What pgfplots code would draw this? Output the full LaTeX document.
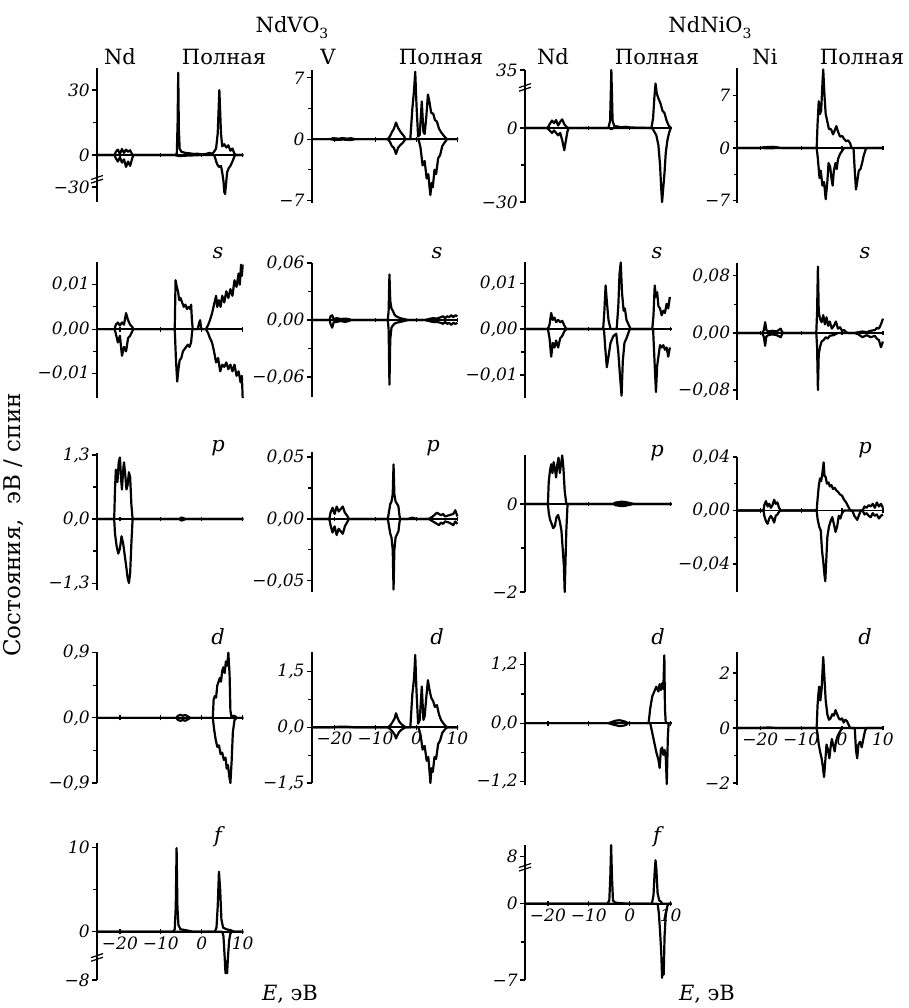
\documentclass[border=0pt]{standalone}
\usepackage{fontspec}
\setmainfont{DejaVu Serif}
\usepackage{pgfplots}
\pgfplotsset{compat=1.18}
\newcommand\tl[1]{\textit{#1}}
\newcommand\brk[1]{\draw[line width=0.6pt] (axis cs:-25.6,#1) ++(-3pt,-1.6pt) -- ++(6pt,2pt); \draw[line width=0.6pt] (axis cs:-25.6,#1) ++(-3pt,0.2pt) -- ++(6pt,2pt);}
\pgfplotsset{
  dos/.style={
    scale only axis, width=73.25pt,
    xmin=-25.6, xmax=10.2,
    axis x line*=middle, axis y line*=left,
    axis line style={line width=0.95pt},
    xtick={-20,-10,0,10}, xticklabels={},
    xtick align=center, ytick align=outside,
    major tick length=2.4pt, minor tick length=1.8pt,
    every tick/.style={line width=0.6pt, black},
    hide obscured x ticks=false, hide obscured y ticks=false,
    yticklabel style={font=\fontsize{8.5}{9}\selectfont, inner sep=1pt},
    xticklabel style={font=\fontsize{8.5}{9}\selectfont, inner sep=1pt},
    clip=false, anchor=south west,
    cycle list={{black, mark=none}},
    every axis plot post/.append style={line width=1.1pt, line join=round, black, mark=none},
    scaled y ticks=false,
  },
  xlab/.style={xticklabels={\tl{−20},\tl{−10},\tl{0},\tl{10}}},
}
\begin{document}
\begin{tikzpicture}
\useasboundingbox (0,0) rectangle (454.5pt,-504pt);
\tikzset{ttl/.style={font=\fontsize{10.5}{12}\selectfont, inner sep=0pt},
         orb/.style={font=\fontsize{10.5}{12}\selectfont\itshape, inner sep=0pt}}
% ---------- titles ----------
\node[ttl] at (146pt,-14pt) {NdVO\raisebox{-0.55ex}{\fontsize{7}{8}\selectfont 3}};
\node[ttl] at (355pt,-14pt) {NdNiO\raisebox{-0.55ex}{\fontsize{7}{8}\selectfont 3}};
\node[ttl] at (60pt,-28.5pt) {Nd};
\node[ttl] at (112pt,-28.5pt) {Полная};
\node[ttl] at (164pt,-28.5pt) {V};
\node[ttl] at (220.5pt,-28.5pt) {Полная};
\node[ttl] at (276.5pt,-28.5pt) {Nd};
\node[ttl] at (328.5pt,-28.5pt) {Полная};
\node[ttl] at (382.5pt,-28.5pt) {Ni};
\node[ttl] at (431pt,-28.5pt) {Полная};
\foreach \xx in {109,218.5,328.5,432.5} {\node[orb] at (\xx pt,-126.5pt) {s};}
\node[orb] at (109pt,-224pt) {p};
\node[orb] at (216.5pt,-224pt) {p};
\node[orb] at (328.5pt,-226.5pt) {p};
\node[orb] at (432.5pt,-225pt) {p};
\foreach \xx in {109,218.5,329,432.5} {\node[orb] at (\xx pt,-318.5pt) {d};}
\node[orb] at (109pt,-418.5pt) {f};
\node[orb] at (328.5pt,-418.5pt) {f};
\node[ttl] at (145pt,-497pt) {\textit{E}, эВ};
\node[ttl] at (353.5pt,-497pt) {\textit{E}, эВ};
\node[ttl, rotate=90, font=\fontsize{11.5}{13}\selectfont] at (7pt,-262.5pt) {Состояния,\ \ эВ / спин};

% ================= ROW 1 =================
\begin{axis}[dos, at={(48.5pt,-101pt)}, height=67pt, ymin=-21.7, ymax=40.2,
  ytick={-14.8,0,30}, yticklabels={\tl{−30},\tl{0},\tl{30}}, minor ytick={15}]
\addplot coordinates {(-25.6,0)(-21.3,0)(-21,1.5)(-20.5,2.5)(-20,0.5)(-19.5,2.8)(-19,1)(-18.5,2.5)(-18,1.5)(-17.5,2.2)(-17,0.3)(-16.7,0)(-6.5,0)(-6.1,0.5)(-5.9,15)(-5.75,38)(-5.6,12)(-5.4,3)(-5,1.5)(-4,1)(-3,0.8)(-2,0.5)(-1,0.6)(0,0.3)(1,0.5)(2,1)(2.5,0.5)(3,1.5)(3.5,3)(3.9,10)(4.3,30)(4.7,10)(5.0,4)(5.5,5)(6,3.5)(6.5,4.5)(7,2)(7.5,3)(8,0.5)(8.5,0)(10.2,0)};
\addplot coordinates {(-25.6,0)(-21.3,0)(-21,-1.5)(-20.5,-3)(-20,-1)(-19.5,-3.5)(-19,-2)(-18.5,-5.5)(-18,-3)(-17.5,-5)(-17,-1.5)(-16.7,0)(-6.5,0)(-6,-0.3)(-5.5,-0.5)(-4,-0.3)(0,0)(3,0)(3.3,-1.5)(3.7,-4)(4.2,-5.5)(4.7,-5)(5.0,-8)(5.3,-12)(5.5,-17)(5.7,-18)(5.9,-14)(6.2,-8)(6.6,-6)(7,-5)(7.5,-3)(8,-0.5)(8.3,0)(10.2,0)};
\brk{-11.5}
\end{axis}

\begin{axis}[dos, at={(155.85pt,-101.5pt)}, height=66.5pt, ymin=-7.3, ymax=7.9,
  ytick={-7,0,7}, yticklabels={\tl{−7},\tl{0},\tl{7}}, minor ytick={-3.5,3.5}]
\addplot coordinates {(-25.6,0)(-21,0)(-20.5,0.1)(-19,0.05)(-18,0.12)(-17,0.05)(-16,0.1)(-15,0)(-7,0)(-6.5,0.3)(-6,0.8)(-5.5,1.2)(-5,1.9)(-4.5,1.3)(-4,0.9)(-3.5,0.6)(-3,0.3)(-2.7,0)(-1.5,0)(-1.0,3.5)(-0.6,5.5)(-0.3,7.7)(0,4)(0.4,0.3)(0.8,0.5)(1.3,4.3)(1.7,0.8)(2.0,0.6)(2.4,2.5)(2.8,5.1)(3.2,4.2)(3.6,3)(4.1,2.9)(4.5,2.2)(5,2.0)(5.5,1.2)(6,0.8)(6.5,0.5)(7,0.2)(7.5,0)(10.2,0)};
\addplot coordinates {(-25.6,0)(-21,0)(-20,-0.1)(-18,-0.05)(-16,-0.1)(-15,0)(-7,0)(-6.5,-0.3)(-6,-0.8)(-5.5,-1.0)(-5,-1.7)(-4.5,-1.0)(-4,-0.7)(-3.5,-0.5)(-3,-0.2)(-2.7,0)(0.5,0)(1.0,-1)(1.5,-3)(2,-2.5)(2.5,-4.5)(2.9,-4)(3.2,-5.5)(3.4,-6.4)(3.7,-5)(4,-5.5)(4.4,-3.5)(4.8,-4)(5.3,-2.2)(5.8,-1.8)(6.3,-0.8)(7,-0.3)(7.5,0)(10.2,0)};
\end{axis}

\begin{axis}[dos, at={(262.5pt,-101.5pt)}, height=66.5pt, ymin=-30.4, ymax=23.5,
  ytick={-30,0,23.5}, yticklabels={\tl{−30},\tl{0},\tl{35}}, minor ytick={-15}]
\addplot coordinates {(-25.6,0)(-20,0)(-19.6,1.5)(-19,3)(-18.5,2)(-18,3.2)(-17.5,1)(-17,2.5)(-16.5,3.5)(-16,1.5)(-15.5,0.5)(-15,0)(-5.2,0)(-4.8,3)(-4.5,23.5)(-4.2,3)(-3.8,0.8)(-3,0.6)(-2,0.3)(-1,0.5)(0,0.2)(5.3,0)(5.7,4)(6,12)(6.3,18)(6.6,14)(7,12)(7.5,10)(8,7)(8.5,6)(9,3)(9.5,1)(10,0)(10.2,0)};
\addplot coordinates {(-25.6,0)(-20,0)(-19.6,-1)(-19,-2)(-18.5,-1)(-18,-2)(-17.5,-3)(-17,-2)(-16.5,-5)(-16,-9)(-15.7,-6)(-15.3,-2)(-15,0)(-5,0)(-4.5,-0.5)(-4,0)(5.5,0)(6,-1.5)(6.5,-3)(7,-7)(7.4,-15)(7.7,-25)(7.9,-30)(8.2,-24)(8.5,-18)(8.8,-10)(9.2,-5)(9.6,-2)(10,0)(10.2,0)};
\brk{16.2}
\end{axis}

\begin{axis}[dos, at={(368.65pt,-101.5pt)}, height=67.5pt, ymin=-7.3, ymax=10.6,
  ytick={-7,0,7}, yticklabels={\tl{−7},\tl{0},\tl{7}}, minor ytick={-3.5,3.5}]
\addplot coordinates {(-25.6,0)(-20,0)(-19,0.1)(-17,0.15)(-16,0.1)(-15,0)(-6.2,0)(-6.0,3)(-5.7,6.2)(-5.4,4.5)(-5.1,5)(-4.8,8.5)(-4.6,10.4)(-4.3,7)(-4,4.5)(-3.6,3.5)(-3.2,2.5)(-2.7,2.5)(-2.2,1.8)(-1.8,2.3)(-1.4,2.9)(-1,2.2)(-0.5,1.5)(0,1.6)(0.5,1.2)(1,0.9)(1.5,1.0)(2,0.6)(2.3,0)(10.2,0)};
\addplot coordinates {(-25.6,0)(-20,0)(-18,-0.05)(-15,0)(-6.2,0)(-5.9,-1.5)(-5.5,-4)(-5.2,-3)(-4.8,-5)(-4.4,-4.5)(-4.0,-6.8)(-3.6,-4.5)(-3.3,-2)(-2.9,-2.5)(-2.6,-4)(-2.3,-5)(-2,-3)(-1.6,-2)(-1.3,-2.8)(-1,-1.5)(-0.5,-0.8)(0,-0.4)(0.5,0)(2.8,0)(3.1,-3)(3.4,-5.5)(3.7,-4.5)(4.1,-3)(4.5,-2.8)(4.9,-2)(5.3,-1)(5.7,-0.3)(6,0)(10.2,0)};
\end{axis}

% ================= ROW 2 (s) =================
\begin{axis}[dos, at={(48.5pt,-199pt)}, height=68pt, ymin=-0.0155, ymax=0.0151,
  ytick={-0.01,0,0.01}, yticklabels={\tl{−0,01},\tl{0,00},\tl{0,01}}, minor ytick={-0.005,0.005}]
\addplot coordinates {(-25.6,0)(-21.3,0)(-21,0.001)(-20.5,0.0015)(-20,0.0008)(-19.5,0.0015)(-19,0.001)(-18.5,0.0036)(-18,0.002)(-17.5,0.001)(-17,0.0005)(-16.7,0)(-6.6,0)(-6.4,0.011)(-6.1,0.0095)(-5.8,0.0085)(-5.5,0.0065)(-5.2,0.007)(-4.8,0.006)(-4.4,0.005)(-4,0.0055)(-3.6,0.0045)(-3.2,0.005)(-2.8,0.0045)(-2.6,0.0055)(-2.4,0.002)(-2.2,0)(-1,0)(-0.6,0.0015)(-0.4,0.002)(-0.2,0.0005)(0,0)(1,0)(1.5,0.0008)(2,0.002)(2.5,0.0035)(3,0.0055)(3.5,0.0075)(3.8,0.005)(4.2,0.0065)(4.6,0.005)(5,0.0075)(5.5,0.006)(6,0.0085)(6.5,0.007)(7,0.009)(7.5,0.0075)(8,0.011)(8.5,0.0095)(9,0.0125)(9.3,0.010)(9.6,0.0145)(9.8,0.012)(10,0.0145)};
\addplot coordinates {(-25.6,0)(-21.3,0)(-21,-0.001)(-20.5,-0.003)(-20,-0.0015)(-19.5,-0.006)(-19,-0.004)(-18.5,-0.005)(-18,-0.002)(-17.5,-0.0015)(-17,-0.0005)(-16.7,0)(-6.6,0)(-6.3,-0.007)(-6,-0.0118)(-5.7,-0.009)(-5.4,-0.007)(-5,-0.0065)(-4.6,-0.005)(-4.2,-0.0045)(-3.8,-0.004)(-3.4,-0.0035)(-3,-0.004)(-2.6,-0.003)(-2.3,0)(1,0)(1.5,-0.0008)(2,-0.002)(2.5,-0.003)(3,-0.005)(3.5,-0.0075)(4,-0.0065)(4.5,-0.0095)(5,-0.008)(5.5,-0.0085)(6,-0.0075)(6.5,-0.009)(7,-0.008)(7.5,-0.0095)(8,-0.008)(8.5,-0.0105)(9,-0.0095)(9.5,-0.012)(9.8,-0.0105)(10,-0.0155)};
\end{axis}

\begin{axis}[dos, at={(155.85pt,-198.5pt)}, height=67pt, ymin=-0.081, ymax=0.06,
  ytick={-0.06,0,0.06}, yticklabels={\tl{−0,06},\tl{0,00},\tl{0,06}}, minor ytick={-0.03,0.03}]
\addplot coordinates {(-25.6,0)(-21.2,0)(-21,0.004)(-20.6,0.005)(-20.2,0.001)(-19.5,0.002)(-18.5,0.001)(-17.5,0.0015)(-16.5,0.001)(-16,0)(-7,0)(-6.8,0.01)(-6.6,0.048)(-6.4,0.02)(-6.1,0.012)(-5.8,0.01)(-5.4,0.006)(-5,0.004)(-4.5,0.003)(-4,0.002)(-3,0.001)(-2,0)(2,0)(3,0.001)(4,0.002)(5,0.0015)(6,0.003)(6.5,0.004)(7,0.002)(7.5,0.004)(8,0.003)(8.5,0.005)(9,0.003)(9.5,0.005)(10,0.004)};
\addplot coordinates {(-25.6,0)(-21.2,0)(-21,-0.004)(-20.6,-0.008)(-20.2,-0.002)(-19.5,-0.002)(-18.5,-0.001)(-17.5,-0.002)(-16.5,-0.001)(-16,0)(-7,0)(-6.8,-0.01)(-6.6,-0.068)(-6.4,-0.02)(-6.1,-0.008)(-5.8,-0.006)(-5.4,-0.004)(-5,-0.003)(-4,-0.002)(-3,-0.001)(-2,0)(2,0)(3,-0.001)(4,-0.002)(5,-0.002)(6,-0.003)(6.5,-0.004)(7,-0.002)(7.5,-0.004)(8,-0.003)(8.5,-0.005)(9,-0.003)(9.5,-0.004)(10,-0.003)};
\end{axis}

\begin{axis}[dos, at={(262.5pt,-199pt)}, height=68pt, ymin=-0.015, ymax=0.0146,
  ytick={-0.01,0,0.01}, yticklabels={\tl{−0,01},\tl{0,00},\tl{0,01}}, minor ytick={-0.005,0.005}]
\addplot coordinates {(-25.6,0)(-20,0)(-19.6,0.001)(-19.2,0.0035)(-18.8,0.002)(-18.4,0.0025)(-18,0.0015)(-17.5,0.002)(-17,0.0015)(-16.5,0.0018)(-16,0.0008)(-15.5,0)(-6.5,0)(-6.2,0.004)(-5.9,0.0095)(-5.6,0.006)(-5.2,0.002)(-4.7,0)(-3.2,0)(-2.8,0.005)(-2.5,0.012)(-2.2,0.0145)(-1.9,0.008)(-1.5,0.004)(-1.2,0.0045)(-0.8,0.002)(-0.3,0.001)(0.2,0)(5.5,0)(5.8,0.003)(6.1,0.0095)(6.4,0.007)(6.7,0.008)(7,0.005)(7.4,0.0045)(7.8,0.003)(8.2,0.004)(8.6,0.0035)(9,0.0055)(9.4,0.0045)(9.8,0.007)};
\addplot coordinates {(-25.6,0)(-20,0)(-19.6,-0.002)(-19.2,-0.006)(-18.8,-0.003)(-18.4,-0.004)(-18,-0.0025)(-17.5,-0.004)(-17,-0.002)(-16.5,-0.0015)(-16,-0.0005)(-15.5,0)(-6.3,0)(-6,-0.004)(-5.6,-0.0083)(-5.2,-0.006)(-4.7,-0.003)(-4,-0.0015)(-3.3,-0.001)(-2.8,-0.005)(-2.4,-0.01)(-2.0,-0.0145)(-1.7,-0.007)(-1.3,-0.003)(-0.8,-0.002)(0,0)(5.7,0)(6,-0.006)(6.4,-0.0137)(6.7,-0.008)(7,-0.006)(7.4,-0.0035)(7.8,-0.004)(8.2,-0.0035)(8.6,-0.0045)(9,-0.004)(9.4,-0.006)(9.8,-0.004)};
\end{axis}

\begin{axis}[dos, at={(368.65pt,-200pt)}, height=68.5pt, ymin=-0.094, ymax=0.098,
  ytick={-0.08,0,0.08}, yticklabels={\tl{−0,08},\tl{0,00},\tl{0,08}}, minor ytick={-0.04,0.04}]
\addplot coordinates {(-25.6,0)(-19.5,0)(-19.1,0.004)(-18.8,0.015)(-18.5,0.004)(-18,0.002)(-17,0.003)(-16,0.002)(-15,0.006)(-14.7,0.002)(-14.4,0)(-6.3,0)(-6.1,0.03)(-5.9,0.093)(-5.7,0.03)(-5.4,0.02)(-5,0.015)(-4.6,0.025)(-4.2,0.012)(-3.8,0.022)(-3.4,0.01)(-3,0.016)(-2.5,0.006)(-2,0.01)(-1.5,0.016)(-1,0.006)(-0.5,0.008)(0,0.003)(0.5,0.004)(1,0.001)(1.5,0)(3,0)(4,0.001)(5,0.002)(6,0.001)(7,0.003)(8,0.004)(8.5,0.007)(9,0.006)(9.5,0.012)(10,0.02)};
\addplot coordinates {(-25.6,0)(-19.5,0)(-19.1,-0.006)(-18.8,-0.018)(-18.5,-0.005)(-18,-0.003)(-17,-0.002)(-16,-0.003)(-15,-0.006)(-14.7,-0.002)(-14.4,0)(-6.3,0)(-6.1,-0.02)(-5.9,-0.08)(-5.7,-0.03)(-5.4,-0.02)(-5,-0.012)(-4.5,-0.01)(-4,-0.006)(-3.5,-0.008)(-3,-0.004)(-2,-0.003)(-1,0)(3,0)(4,-0.002)(5,-0.006)(6,-0.003)(7,-0.006)(8,-0.004)(8.5,-0.008)(9,-0.01)(9.5,-0.02)(10,-0.012)};
\end{axis}

% ================= ROW 3 (p) =================
\begin{axis}[dos, at={(48.5pt,-295pt)}, height=68.5pt, ymin=-1.44, ymax=1.34,
  ytick={-1.3,0,1.3}, yticklabels={\tl{−1,3},\tl{0,0},\tl{1,3}}, minor ytick={-0.65,0.65}]
\addplot coordinates {(-25.6,0)(-21.4,0)(-21.2,0.6)(-21,1.0)(-20.6,0.75)(-20.3,1.15)(-20,1.25)(-19.7,0.8)(-19.5,0.6)(-19.2,1.0)(-19,1.15)(-18.7,0.9)(-18.4,0.6)(-18.1,0.7)(-17.8,0.95)(-17.5,0.85)(-17.2,0.3)(-16.9,0)(-5.5,0)(-5,0.03)(-4.5,0.02)(-4,0)(10.2,0)};
\addplot coordinates {(-25.6,0)(-21.4,0)(-21.2,-0.3)(-20.8,-0.55)(-20.4,-0.7)(-20,-0.6)(-19.6,-0.35)(-19.2,-0.5)(-18.8,-0.75)(-18.4,-1.0)(-18.1,-1.2)(-17.8,-1.3)(-17.5,-1.1)(-17.2,-0.5)(-16.9,0)(-5.5,0)(-5,-0.03)(-4.5,-0.02)(-4,0)(10.2,0)};
\end{axis}

\begin{axis}[dos, at={(155.85pt,-296pt)}, height=70pt, ymin=-0.059, ymax=0.054,
  ytick={-0.05,0,0.05}, yticklabels={\tl{−0,05},\tl{0,00},\tl{0,05}}, minor ytick={-0.025,0.025}]
\addplot coordinates {(-25.6,0)(-21.3,0)(-21,0.005)(-20.5,0.009)(-20,0.004)(-19.5,0.01)(-19,0.006)(-18.5,0.008)(-18,0.01)(-17.5,0.005)(-17,0.003)(-16.5,0)(-7,0)(-6.7,0.006)(-6.4,0.012)(-6.1,0.014)(-5.8,0.02)(-5.6,0.044)(-5.4,0.02)(-5.1,0.014)(-4.7,0.012)(-4.4,0.01)(-4.2,0.004)(-4,0)(-2,0)(-1,0.001)(0,0)(3,0)(4,0.002)(5,0.005)(5.5,0.004)(6,0.003)(6.5,0.004)(7,0.002)(8,0.003)(9,0.004)(9.5,0.007)(10,0.002)};
\addplot coordinates {(-25.6,0)(-21.3,0)(-21,-0.005)(-20.5,-0.011)(-20,-0.006)(-19.5,-0.013)(-19,-0.008)(-18.5,-0.01)(-18,-0.012)(-17.5,-0.006)(-17,-0.003)(-16.5,0)(-7,0)(-6.7,-0.006)(-6.4,-0.012)(-6.1,-0.015)(-5.8,-0.025)(-5.6,-0.057)(-5.4,-0.025)(-5.1,-0.015)(-4.7,-0.012)(-4.4,-0.01)(-4.2,-0.004)(-4,0)(3,0)(4,-0.002)(5,-0.004)(5.5,-0.005)(6,-0.003)(6.5,-0.004)(7,-0.002)(8,-0.003)(9,-0.005)(9.5,-0.002)(10,-0.004)};
\end{axis}

\begin{axis}[dos, at={(262.5pt,-296pt)}, height=68.5pt, ymin=-2, ymax=1.11,
  ytick={-2,0}, yticklabels={\tl{−2},\tl{0}}, minor ytick={-1}]
\addplot coordinates {(-25.6,0)(-20,0)(-19.8,0.5)(-19.5,0.75)(-19.2,0.9)(-18.9,0.7)(-18.6,0.95)(-18.3,0.8)(-18,0.6)(-17.7,0.9)(-17.4,1.05)(-17.1,0.7)(-16.8,0.9)(-16.5,1.1)(-16.2,0.8)(-15.9,0.3)(-15.5,0)(-4,0)(-3.5,0.03)(-2,0.05)(-1,0.04)(0,0.02)(1,0)(10.2,0)};
\addplot coordinates {(-25.6,0)(-20,0)(-19.8,-0.2)(-19.5,-0.35)(-19.1,-0.45)(-18.7,-0.55)(-18.3,-0.5)(-17.9,-0.3)(-17.5,-0.25)(-17.1,-0.4)(-16.7,-0.6)(-16.4,-1.0)(-16.1,-1.4)(-15.9,-2.0)(-15.7,-1.3)(-15.5,-0.6)(-15.2,0)(-4,0)(-3.5,-0.03)(-2,-0.05)(-1,-0.04)(0,-0.02)(1,0)(10.2,0)};
\end{axis}

\begin{axis}[dos, at={(368.65pt,-296pt)}, height=67.5pt, ymin=-0.061, ymax=0.04,
  ytick={-0.04,0,0.04}, yticklabels={\tl{−0,04},\tl{0,00},\tl{0,04}}, minor ytick={-0.02,0.02}]
\addplot coordinates {(-25.6,0)(-19.2,0)(-19,0.004)(-18.6,0.007)(-18.2,0.003)(-17.8,0.005)(-17.4,0.002)(-17,0.004)(-16.6,0.008)(-16.2,0.005)(-15.8,0.006)(-15.4,0.002)(-15,0)(-6.2,0)(-6,0.008)(-5.7,0.018)(-5.4,0.024)(-5.1,0.022)(-4.8,0.028)(-4.5,0.036)(-4.3,0.026)(-4,0.025)(-3.7,0.02)(-3.3,0.021)(-3,0.018)(-2.6,0.019)(-2.2,0.016)(-1.8,0.017)(-1.4,0.015)(-1,0.014)(-0.5,0.012)(0,0.011)(0.5,0.008)(1,0.006)(1.5,0.003)(2,0)(5,0)(5.5,0.003)(6,0.002)(6.5,0.004)(7,0.003)(7.5,0.005)(8,0.002)(8.5,0.006)(9,0.003)(9.5,0.005)(10,0.002)};
\addplot coordinates {(-25.6,0)(-19.2,0)(-19,-0.004)(-18.6,-0.008)(-18.2,-0.01)(-17.8,-0.006)(-17.4,-0.004)(-17,-0.006)(-16.6,-0.009)(-16.2,-0.004)(-15.8,-0.003)(-15.4,-0.001)(-15,0)(-6.2,0)(-6,-0.006)(-5.6,-0.012)(-5.2,-0.015)(-4.9,-0.03)(-4.6,-0.038)(-4.3,-0.048)(-4.1,-0.053)(-3.9,-0.04)(-3.6,-0.02)(-3.2,-0.012)(-2.8,-0.008)(-2.4,-0.005)(-2,-0.01)(-1.6,-0.016)(-1.2,-0.012)(-0.8,-0.004)(-0.4,-0.006)(0,-0.002)(0.5,0)(2.5,0)(3,-0.004)(3.7,-0.007)(4.2,-0.003)(4.6,0)(5,0)(5.5,-0.003)(6,-0.002)(6.5,-0.004)(7,-0.005)(7.5,-0.002)(8,-0.004)(8.5,-0.003)(9,-0.006)(9.5,-0.004)(10,-0.003)};
\end{axis}

% ================= ROW 4 (d) =================
\begin{axis}[dos, at={(48.5pt,-391.5pt)}, height=65.5pt, ymin=-0.9, ymax=0.91,
  ytick={-0.9,0,0.9}, yticklabels={\tl{−0,9},\tl{0,0},\tl{0,9}}, minor ytick={-0.45,0.45}]
\addplot coordinates {(-25.6,0)(-6.2,0)(-5.8,0.03)(-5.2,0.04)(-4.6,0.03)(-4,0.04)(-3.4,0.02)(-2.8,0)(2.7,0)(2.9,0.25)(3.2,0.3)(3.5,0.28)(3.8,0.45)(4.1,0.5)(4.4,0.55)(4.7,0.5)(5,0.65)(5.3,0.7)(5.6,0.62)(5.9,0.78)(6.2,0.72)(6.5,0.9)(6.8,0.6)(7.0,0.1)(7.3,0)(7.8,0.03)(8.2,0.02)(8.5,0)(10.2,0)};
\addplot coordinates {(-25.6,0)(-6.2,0)(-5.8,-0.03)(-5.2,-0.04)(-4.6,-0.03)(-4,-0.04)(-3.4,-0.02)(-2.8,0)(2.7,0)(3,-0.15)(3.4,-0.3)(3.8,-0.4)(4.2,-0.38)(4.6,-0.5)(5,-0.48)(5.4,-0.58)(5.8,-0.55)(6.1,-0.7)(6.4,-0.65)(6.7,-0.8)(7,-0.9)(7.3,-0.6)(7.6,-0.2)(8,-0.03)(8.5,0)(10.2,0)};
\end{axis}

\begin{axis}[dos, xlab, at={(155.85pt,-391.5pt)}, height=65.5pt, ymin=-1.5, ymax=2.03,
  ytick={-1.5,0,1.5}, yticklabels={\tl{−1,5},\tl{0,0},\tl{1,5}}, minor ytick={-0.75,0.75}]
\addplot coordinates {(-25.6,0)(-21,0)(-20,0.01)(-18,0.02)(-16,0.01)(-15,0)(-7,0)(-6.4,0.05)(-5.8,0.15)(-5.3,0.25)(-5,0.38)(-4.6,0.25)(-4.2,0.15)(-3.6,0.08)(-3,0.03)(-2.7,0)(-1.5,0)(-1,0.9)(-0.6,1.3)(-0.3,1.95)(0,1.0)(0.4,0.1)(0.8,0.2)(1.3,1.1)(1.7,0.2)(2.0,0.3)(2.4,0.8)(2.8,1.27)(3.2,1.0)(3.6,0.8)(4.1,0.7)(4.5,0.55)(5,0.6)(5.5,0.35)(6,0.2)(6.5,0.12)(7,0.05)(7.5,0)(10.2,0)};
\addplot coordinates {(-25.6,0)(-7,0)(-6.4,-0.05)(-5.8,-0.12)(-5.3,-0.2)(-5,-0.3)(-4.6,-0.2)(-4.2,-0.12)(-3.6,-0.06)(-3,-0.02)(-2.7,0)(0.5,0)(1,-0.2)(1.5,-0.6)(2,-0.5)(2.5,-0.9)(2.9,-0.8)(3.2,-1.2)(3.4,-1.5)(3.7,-1.1)(4,-1.2)(4.4,-0.8)(4.8,-0.85)(5.3,-0.45)(5.8,-0.35)(6.3,-0.15)(7,-0.05)(7.5,0)(10.2,0)};
\end{axis}

\begin{axis}[dos, at={(262.5pt,-392.5pt)}, height=66.5pt, ymin=-1.27, ymax=1.46,
  ytick={-1.2,0,1.2}, yticklabels={\tl{−1,2},\tl{0,0},\tl{1,2}}, minor ytick={-0.6,0.6}]
\addplot coordinates {(-25.6,0)(-5.2,0)(-4.5,0.02)(-3.5,0.05)(-2.5,0.06)(-1.5,0.04)(-0.8,0.02)(-0.5,0)(4.6,0)(5,0.3)(5.5,0.55)(6,0.65)(6.5,0.75)(7,0.65)(7.3,0.8)(7.6,0.68)(7.9,0.82)(8.2,0.7)(8.45,1.39)(8.6,0.3)(8.8,0)(10.2,0)};
\addplot coordinates {(-25.6,0)(-5.2,0)(-4.5,-0.02)(-3.5,-0.04)(-2.5,-0.06)(-1.5,-0.05)(-0.8,-0.03)(-0.5,0)(5,0)(5.5,-0.2)(6,-0.4)(6.5,-0.6)(7,-0.75)(7.3,-0.92)(7.6,-0.55)(7.9,-0.5)(8.2,-0.65)(8.5,-0.55)(8.8,-0.7)(9.05,-1.25)(9.3,-0.3)(9.5,0)(10.2,0)};
\end{axis}

\begin{axis}[dos, xlab, at={(368.65pt,-392.5pt)}, height=66.5pt, ymin=-2.07, ymax=2.76,
  ytick={-2,0,2}, yticklabels={\tl{−2},\tl{0},\tl{2}}, minor ytick={-1,1}]
\addplot coordinates {(-25.6,0)(-20,0)(-18,0.02)(-16,0)(-6.2,0)(-6.0,0.8)(-5.8,1.2)(-5.6,1.5)(-5.3,1.0)(-5.0,1.4)(-4.6,2.58)(-4.3,1.8)(-4.0,1.0)(-3.6,0.5)(-3.2,0.3)(-2.8,0.35)(-2.4,0.5)(-2.0,0.45)(-1.6,0.65)(-1.2,0.5)(-0.8,0.35)(-0.4,0.3)(0,0.35)(0.4,0.2)(0.8,0.3)(1.2,0.25)(1.6,0.12)(2,0)(10.2,0)};
\addplot coordinates {(-25.6,0)(-6.2,0)(-6,-0.2)(-5.7,-0.6)(-5.3,-0.9)(-5,-1.1)(-4.7,-1.4)(-4.4,-1.78)(-4.1,-1.2)(-3.8,-0.6)(-3.4,-0.8)(-3.1,-1.1)(-2.8,-0.7)(-2.5,-0.4)(-2.2,-0.6)(-1.8,-0.85)(-1.5,-0.5)(-1.1,-0.3)(-0.6,-0.15)(0,0)(3.1,0)(3.4,-0.8)(3.7,-1.1)(4.0,-0.6)(4.4,-0.5)(4.8,-0.7)(5.2,-0.4)(5.6,-0.1)(6,0)(10.2,0)};
\end{axis}

% ================= ROW 5 (f) =================
\begin{axis}[dos, xlab, at={(48.5pt,-490pt)}, height=68.5pt, ymin=-5.7, ymax=10.5,
  ytick={-5.7,0,10}, yticklabels={\tl{−8},\tl{0},\tl{10}}, minor ytick={5}]
\addplot coordinates {(-25.6,0)(-7,0)(-6.6,0.3)(-6.35,3)(-6.15,9.9)(-5.95,3)(-5.7,0.8)(-5.2,0.3)(-4,0.2)(-3,0.1)(-2,0)(3.2,0)(3.6,0.5)(3.9,3)(4.2,7.1)(4.5,5)(4.8,1.5)(5.2,0.5)(6,0.3)(7,0.2)(8,0)(10.2,0)};
\addplot coordinates {(-25.6,0)(5,0)(5.3,-0.5)(5.6,-3)(5.8,-4.9)(6.0,-3.5)(6.2,-4.9)(6.4,-3)(6.7,-1)(7,-0.2)(7.3,0)(10.2,0)};
\brk{-3.1}
\end{axis}

\begin{axis}[dos, xlab, at={(262.5pt,-490pt)}, height=67.5pt, ymin=-7, ymax=5.4,
  ytick={-7,0,4.33}, yticklabels={\tl{−7},\tl{0},\tl{8}}, minor ytick={-3.5}]
\addplot coordinates {(-25.6,0)(-5.5,0)(-5.0,0.3)(-4.75,2.5)(-4.55,5.4)(-4.35,2.5)(-4.1,0.3)(-3.5,0.1)(-2,0.05)(0,0)(5.4,0)(5.8,0.8)(6.1,3)(6.3,4.0)(6.5,3.2)(6.8,1.0)(7.2,0.3)(7.6,0.2)(8,0)(10.2,0)};
\addplot coordinates {(-25.6,0)(6.8,0)(7.1,-0.8)(7.4,-2.5)(7.7,-4.5)(7.9,-6.8)(8.1,-5)(8.3,-6.5)(8.5,-3)(8.8,-1)(9.2,-0.2)(9.5,0)(10.2,0)};
\brk{3.3}
\end{axis}
\end{tikzpicture}
\end{document}
